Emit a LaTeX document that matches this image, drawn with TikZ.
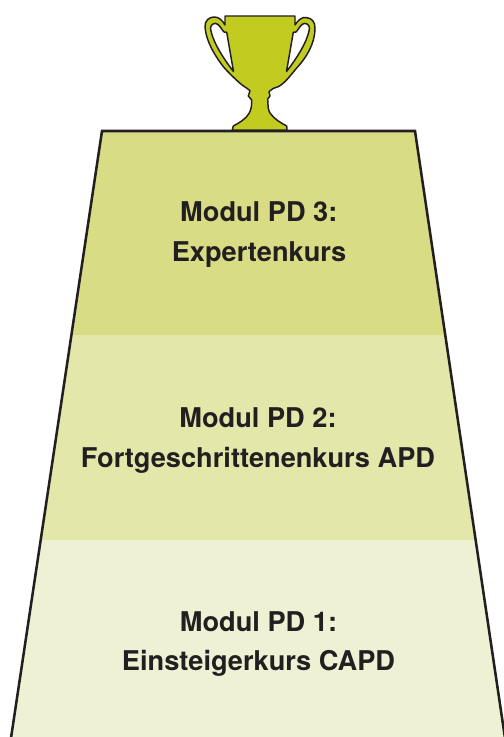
\documentclass[tikz,border=0pt]{standalone}
\usepackage{fontspec}
\setmainfont{TeX Gyre Heros}
\definecolor{inkc}{HTML}{231F20}
\definecolor{topc}{HTML}{D8DD85}
\definecolor{midc}{HTML}{E4E7AA}
\definecolor{lowc}{HTML}{EEF1D4}
\definecolor{cupc}{HTML}{C2CC20}
\tikzset{
  lbl/.style={font=\fontsize{20.4pt}{24pt}\selectfont\bfseries,text=inkc,inner sep=0pt,anchor=base},
  edge/.style={draw=inkc,line width=1.9pt},
}
\begin{document}
\begin{tikzpicture}[x=0.75pt,y=-0.75pt]
\useasboundingbox (0,0) rectangle (503,737);
\fill[white] (0,0) rectangle (503,737);
\fill[lowc] (41.5,540) -- (475.5,540) -- (505,737) -- (11,737) -- cycle;
\fill[midc] (72,335) -- (445,335) -- (475.5,540) -- (41.5,540) -- cycle;
\fill[topc] (102,131) -- (415,131) -- (445,335) -- (72,335) -- cycle;
\draw[edge,line join=miter] (11,738) -- (102,131) -- (415,131) -- (505,738);
\draw[draw=inkc,line width=1.1pt,fill=cupc,even odd rule,line join=round]
 (225,16) -- (295,16) -- (295,25)
 .. controls (298,20) and (302,17) .. (306,17.5)
 .. controls (312,18) and (315,22) .. (315,28)
 .. controls (315,44) and (306,58) .. (296.7,68)
 .. controls (290,76) and (285,83) .. (278.3,86.7)
 .. controls (274,88) and (271,89) .. (269,91.7)
 -- (270,96) -- (267.7,99)
 .. controls (268,106) and (268,110) .. (270,113)
 .. controls (274,119) and (281,123) .. (286.7,126)
 -- (287,130) -- (232.3,130) -- (233.3,126)
 .. controls (239,123) and (246,119) .. (249.3,113)
 .. controls (251,110) and (252,105) .. (251.7,100)
 -- (248.3,96) -- (250,90.7)
 .. controls (247,88) and (243,86) .. (240,83.3)
 .. controls (233,77) and (228,72) .. (223.3,66.7)
 .. controls (216,57) and (206,42) .. (205,27)
 .. controls (204.5,21) and (209,17) .. (214,17)
 .. controls (219,17) and (222,20) .. (225,25)
 -- cycle
 (210.5,28) .. controls (211,24) and (215,22) .. (218,24.5)
 .. controls (220,26) and (222,30) .. (224,32)
 -- (226.7,32.3) -- (233.5,71.5)
 .. controls (226,62) and (212,42) .. (210.5,28) -- cycle
 (309.5,28) .. controls (309,24) and (305,22) .. (302,24.5)
 .. controls (300,26) and (298,30) .. (296,32)
 -- (293.3,32.3) -- (286.5,71.5)
 .. controls (294,62) and (308,42) .. (309.5,28) -- cycle;
\node[lbl] (a1) at (258.8,222) {Modul PD 3:};
\node[lbl] (a2) at (259,261.7) {Expertenkurs};
\node[lbl] (b1) at (258,427) {Modul PD 2:};
\node[lbl] (b2) at (258,467) {Fortgeschrittenenkurs APD};
\node[lbl] (c1) at (258.5,631.7) {Modul PD 1:};
\node[lbl] (c2) at (258.5,670.7) {Einsteigerkurs CAPD};
\end{tikzpicture}
\end{document}
